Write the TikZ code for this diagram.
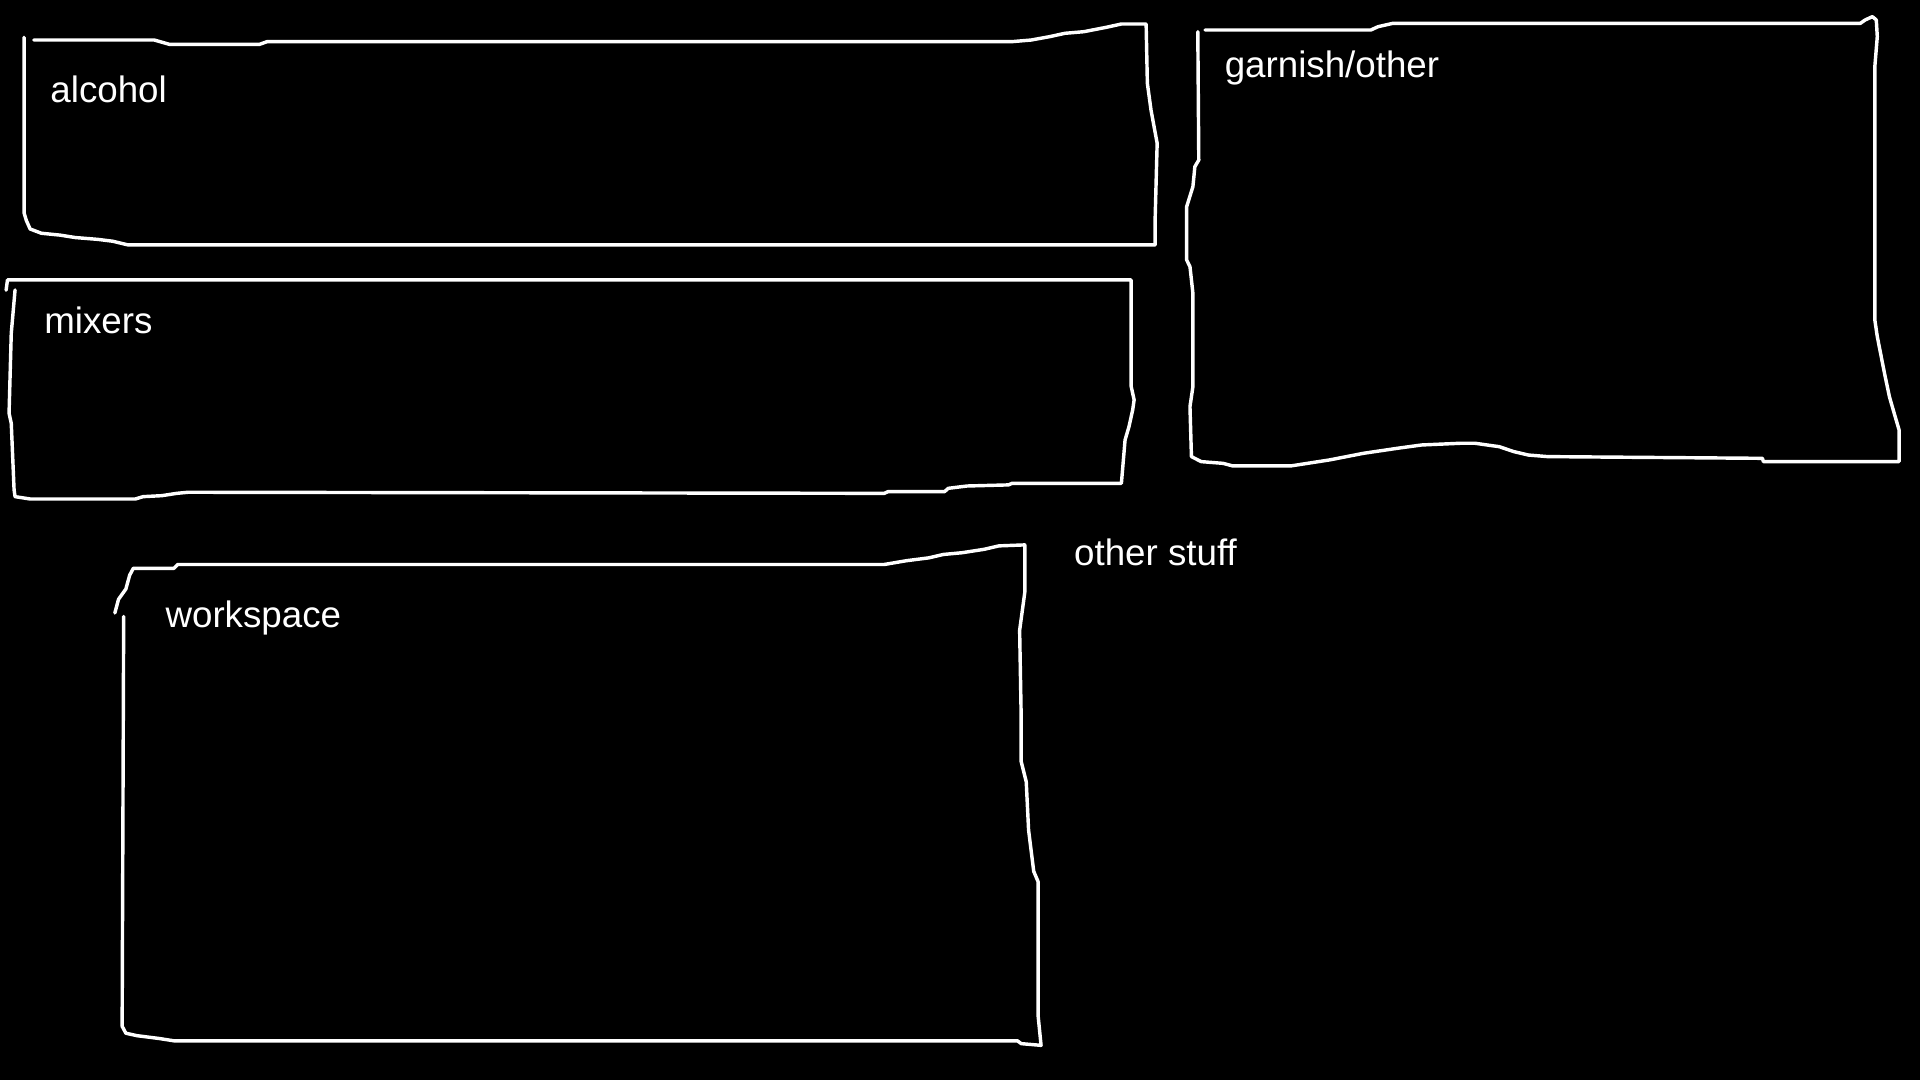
\documentclass[tikz,border=0pt]{standalone}
\usepackage{fontspec}
\setmainfont{Liberation Sans}
\tikzset{
  sketch/.style={draw=white, line width=2.8pt, line join=round, line cap=round},
  lbl/.style={text=white, anchor=base west, inner sep=0pt, font=\fontsize{30}{36}\selectfont}
}
\begin{document}
\begin{tikzpicture}[x=1pt,y=-1pt]
\fill[black] (0,0) rectangle (1568,882);
\useasboundingbox (0,0) rectangle (1568,882);
% alcohol
\draw[sketch] (27.7,32.7) -- (126,32.7) -- (138.3,36.2) -- (212,36.2) -- (218.2,34) -- (826.6,34) -- (842,32.7) -- (857.4,29.9) -- (869.7,27.2) -- (885,25.9) -- (903.5,22.3) -- (915.8,19.6) -- (936,19.6) -- (937,68) -- (940,90) -- (945,117) -- (943.4,177) -- (943.4,200) -- (104.5,200) -- (92,197) -- (80,195.5) -- (61.5,194) -- (49,192) -- (33.8,190.5) -- (24.6,187) -- (21.5,180) -- (19.7,174) -- (19.7,30.5);
% mixers
\draw[sketch] (5,237) -- (6.1,228.6) -- (923.8,228.6) -- (923.8,315.7) -- (926.2,326.6) -- (925,334.8) -- (922,348.4) -- (918.8,359.3) -- (915.8,394.7) -- (826.6,394.7) -- (823.6,396) -- (789.8,396.9) -- (774.4,398.8) -- (771.4,401.5) -- (725.2,401.5) -- (722.2,402.9) -- (153.7,402) -- (144.4,402.9) -- (132.1,404.8) -- (116.8,405.6) -- (110.6,407.5) -- (24.6,407.5) -- (12.3,405.6) -- (11.5,400) -- (9.2,345.7) -- (7.4,337.5) -- (9.2,272.2) -- (12.3,236.8);
% garnish/other
\draw[sketch] (984.1,24.5) -- (1119.5,24.5) -- (1125.4,21.8) -- (1137.3,19.1) -- (1519.2,19.1) -- (1523.2,16.3) -- (1529.1,13.6) -- (1532.3,16.3) -- (1533.1,29.9) -- (1531.1,54.4) -- (1531.1,261.3) -- (1533.1,274.9) -- (1539,304.9) -- (1543,323.9) -- (1546.9,337.5) -- (1550.9,351.1) -- (1550.9,377) -- (1440.1,377) -- (1439.3,374.3) -- (1263.9,372.9) -- (1248.1,371.6) -- (1236.2,368.8) -- (1224.4,364.8) -- (1204.6,362) -- (1192.7,362) -- (1161,363.4) -- (1141.2,366.1) -- (1113.5,370.2) -- (1085.8,375.6) -- (1054.2,380.5) -- (1006.7,380.5) -- (998.8,378.4) -- (981,377) -- (973,372.9) -- (971.8,332.1) -- (974.2,315.8) -- (974.2,239.5) -- (971.8,217.8) -- (969.1,212.3) -- (969.1,168.8) -- (974.2,152.4) -- (975.8,136.1) -- (979,130.7) -- (978.2,25.9);
% workspace
\draw[sketch] (93.8,500.6) -- (96.8,489.4) -- (102.8,481) -- (105.9,469.7) -- (108.9,464.1) -- (142.1,464.1) -- (145.1,461) -- (722.1,461) -- (740.3,457.9) -- (758.4,455.6) -- (770.5,452.8) -- (785.6,451.4) -- (803.7,448.6) -- (815.8,445.8) -- (836.9,445) -- (836.9,483.8) -- (832.7,514.7) -- (833.9,582.2) -- (833.9,621.6) -- (838.1,638.5) -- (840,677.9) -- (844.2,711.6) -- (847.8,720.1) -- (847.8,829.8) -- (850.2,853.7) -- (834,852.3) -- (830.9,850) -- (142.1,850) -- (130,848.1) -- (111.9,845.8) -- (102.8,843.8) -- (99.8,838.2) -- (99.8,824.2) -- (101,503.5);
% labels
\node[lbl] (alcohol) at (41,83.5) {alcohol};
\node[lbl] (mixers) at (36,272.5) {mixers};
\node[lbl] (garnish) at (1000,63.5) {garnish/other};
\node[lbl] (workspace) at (135,512.5) {workspace};
\node[lbl] (otherstuff) at (877,461.5) {other stuff};
\end{tikzpicture}
\end{document}
